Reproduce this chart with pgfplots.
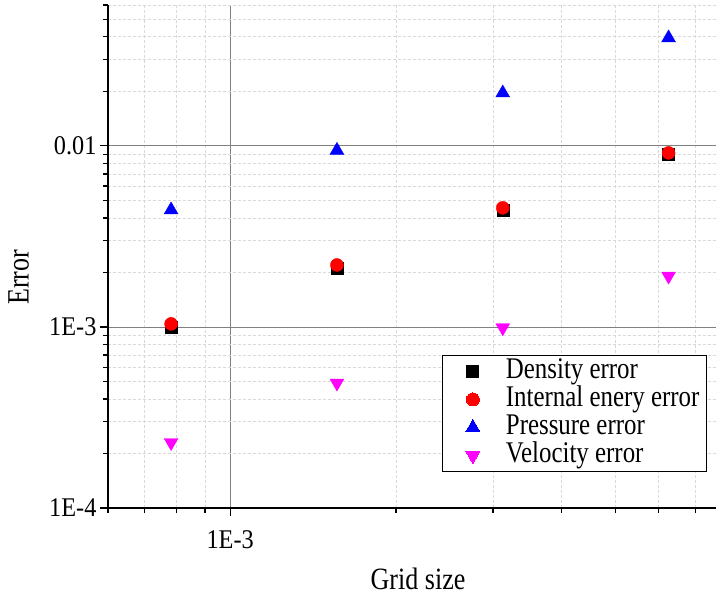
\documentclass[border=0pt]{standalone}
\usepackage{fontspec}
\setmainfont{Liberation Serif}
\newfontfamily\condfont[FakeStretch=0.84]{Liberation Serif}
\newfontfamily\legfont[FakeStretch=0.83]{Liberation Serif}
\newfontfamily\tickfont[FakeStretch=0.9]{Liberation Serif}
\usepackage{pgfplots}
\pgfplotsset{compat=1.18}
\definecolor{pmag}{RGB}{255,0,255}
\definecolor{pblue}{RGB}{0,0,255}
\definecolor{pred}{RGB}{255,0,0}
\begin{document}
\begin{tikzpicture}
\begin{axis}[
  scale only axis,
  width=608pt, height=503pt,
  xmode=log, ymode=log,
  xmin=6e-4, xmax=7.62e-3,
  ymin=1e-4, ymax=0.06,
  axis x line=bottom, axis y line=left,
  axis line style={-, black, line width=1.4pt},
  tick align=outside,
  major tick length=8pt, minor tick length=4.5pt,
  every tick/.style={black, line width=1.2pt},
  xtick={1e-3}, xticklabels={1E-3},
  ytick={1e-4,1e-3,1e-2}, yticklabels={1E-4,1E-3,0.01},
  minor xtick={6e-4,7e-4,8e-4,9e-4,2e-3,3e-3,4e-3,5e-3,6e-3,7e-3},
  minor ytick={2e-4,3e-4,4e-4,5e-4,6e-4,7e-4,8e-4,9e-4,2e-3,3e-3,4e-3,5e-3,6e-3,7e-3,8e-3,9e-3,2e-2,3e-2,4e-2,5e-2,6e-2},
  grid=both,
  major grid style={solid, color=black!50, line width=0.8pt},
  minor grid style={dash pattern=on 3pt off 2pt, color=black!15, line width=0.8pt},
  tick label style={font=\tickfont\fontsize{27}{27}\selectfont},
  xticklabel style={yshift=-11pt},
  xlabel={Grid size}, ylabel={Error},
  label style={font=\condfont\fontsize{31}{31}\selectfont},
  xlabel style={at={(axis description cs:0.51,-0.14)}, anchor=center},
  ylabel style={at={(axis description cs:-0.147,0.459)}, anchor=center, rotate=0},
  legend style={at={(rel axis cs:0.985,0.072)}, anchor=south east, draw=black, line width=0.8pt,
    font=\legfont\fontsize{30}{30}\selectfont, fill=white,
    nodes={inner xsep=2pt, inner ysep=0pt, text height=21pt, text depth=7pt},
    row sep=0pt, inner xsep=5pt, inner ysep=2pt},
  legend cell align=left,
  legend image code/.code={\path[draw=none] (0pt,0pt) -- (57pt,0pt); \draw[#1, line width=0pt] plot coordinates {(26pt,0pt)};},
  clip=false,
]
\addplot[only marks, mark=square*, mark size=6pt, color=black] coordinates {
  (0.00078125,0.00100) (0.0015625,0.00212) (0.003125,0.00443) (0.00625,0.00900)};
\addlegendentry{Density error}
\addplot[only marks, mark=*, mark size=6.5pt, color=pred] coordinates {
  (0.00078125,0.00104) (0.0015625,0.00220) (0.003125,0.00455) (0.00625,0.00915)};
\addlegendentry{Internal enery error}
\addplot[only marks, mark=triangle*, mark size=8pt, color=pblue] coordinates {
  (0.00078125,0.00443) (0.0015625,0.00945) (0.003125,0.0196) (0.00625,0.0395)};
\addlegendentry{Pressure error}
\addplot[only marks, mark=triangle*, mark size=8pt, mark options={rotate=180}, color=pmag] coordinates {
  (0.00078125,0.000230) (0.0015625,0.000490) (0.003125,0.000990) (0.00625,0.00191)};
\addlegendentry{Velocity error}
\end{axis}
\path (current axis.south west) ++(-108pt,-90pt) rectangle ++(718pt,598pt);
\end{tikzpicture}
\end{document}
